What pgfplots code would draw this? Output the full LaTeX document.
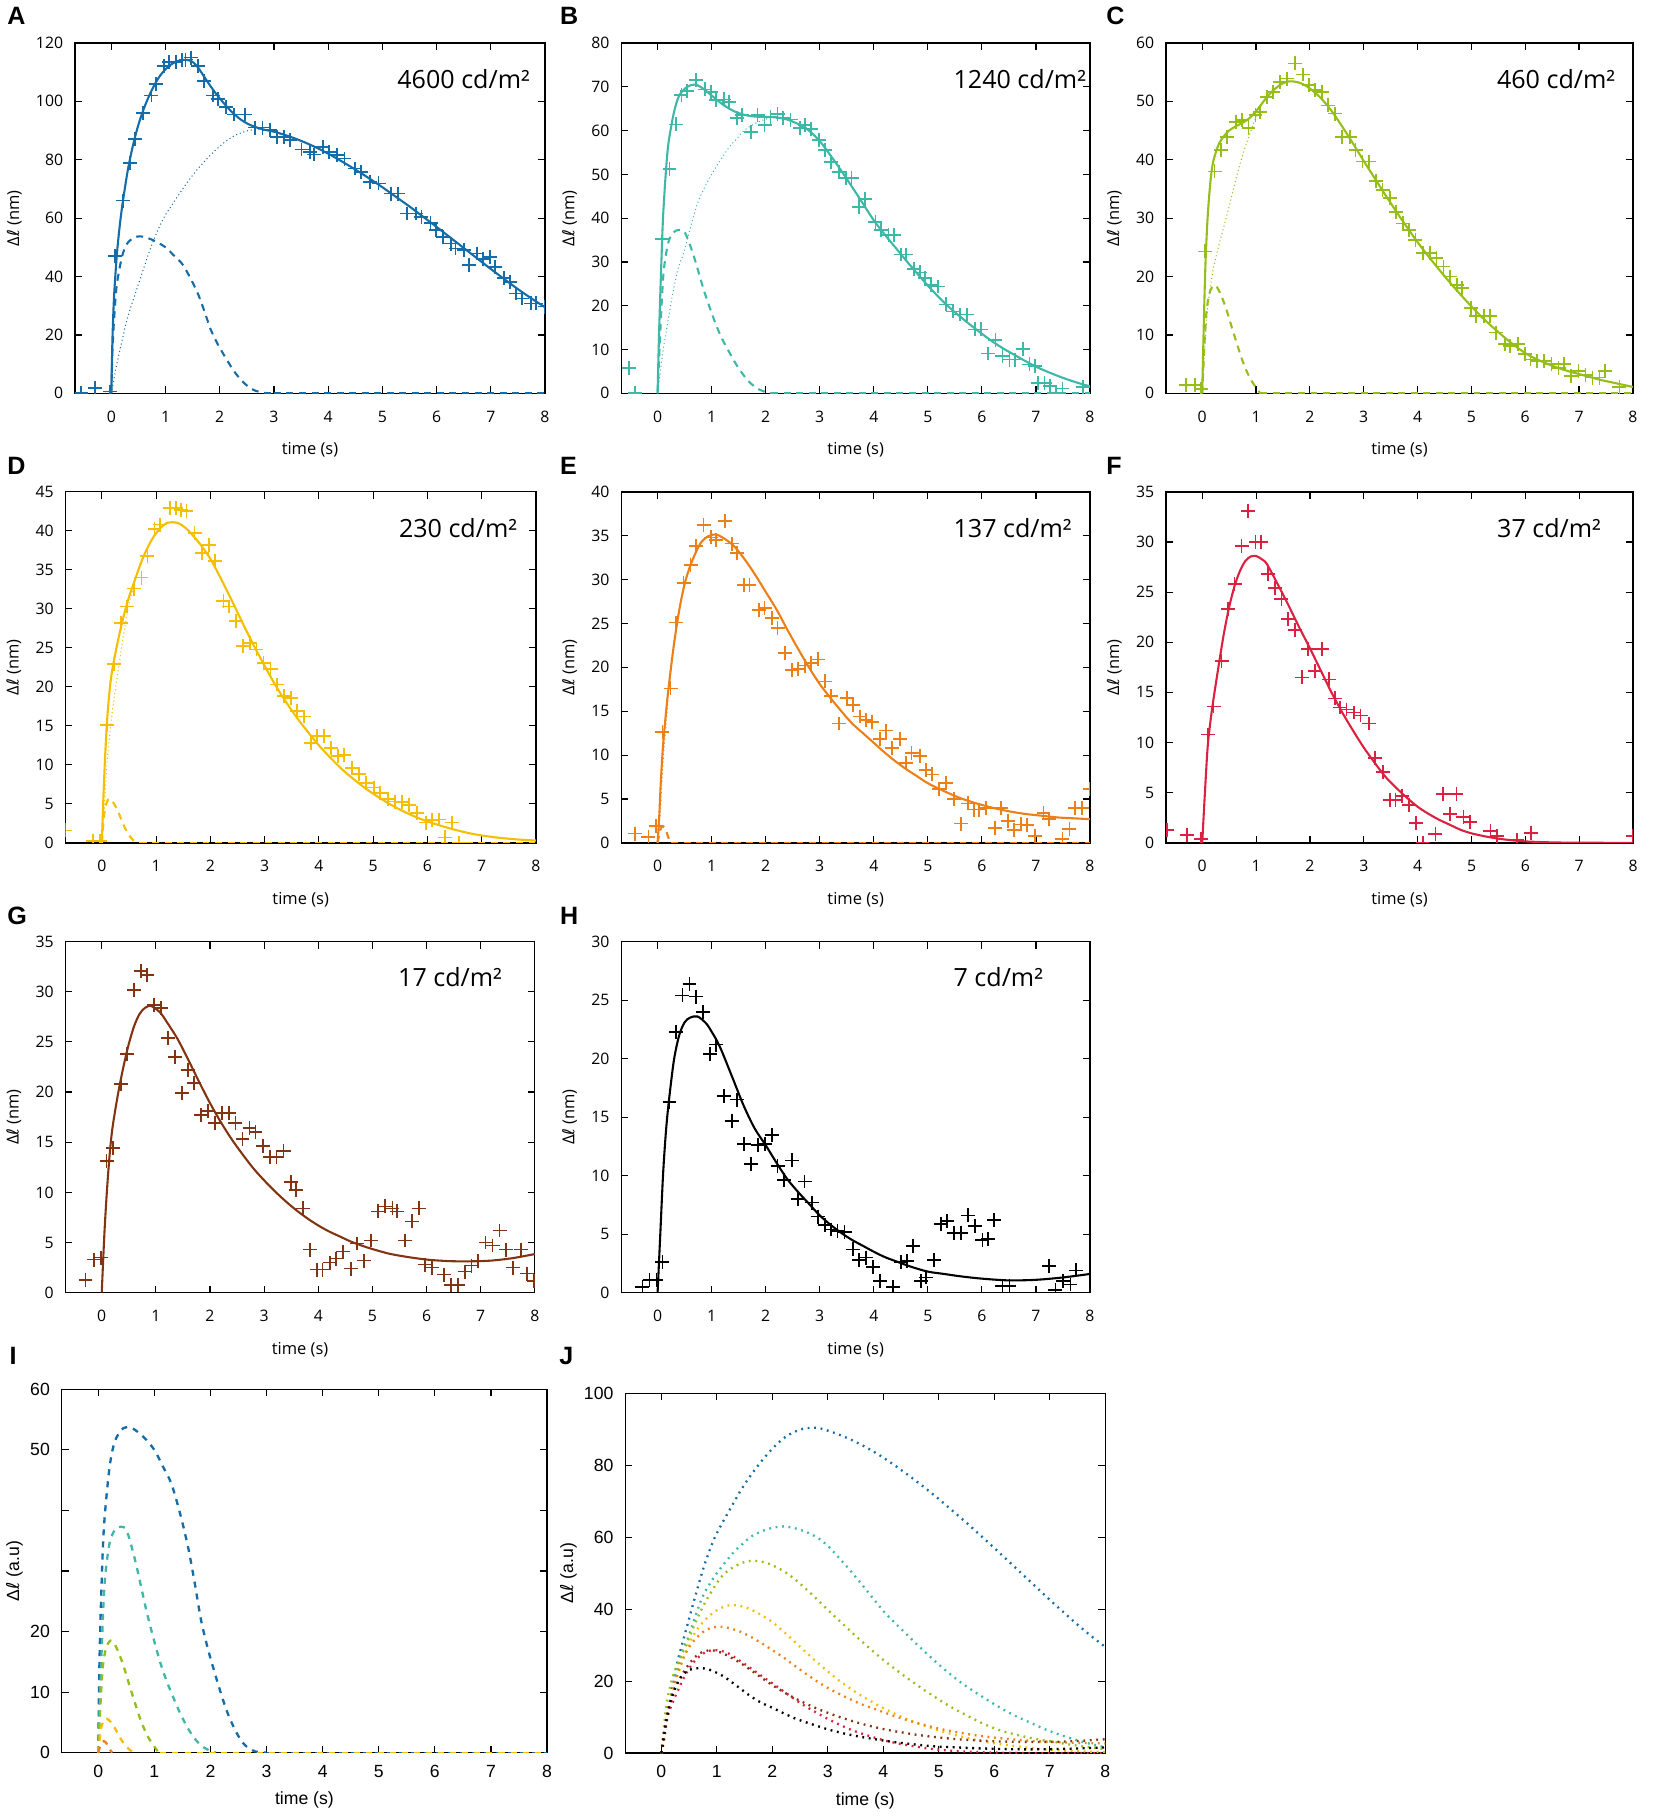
\documentclass[border=0pt]{standalone}
\usepackage{fontspec}
\setmainfont{Open Sans}
\newfontfamily\lab{Liberation Sans}
\newfontfamily\ari{Liberation Sans}
\newfontfamily\dv{DejaVu Sans}
\usepackage{pgfplots}
\usepackage{pgfplotstable}
\pgfplotsset{compat=1.18}

\definecolor{cA}{RGB}{20,108,168}
\definecolor{cB}{RGB}{62,184,166}
\definecolor{cC}{RGB}{150,190,25}
\definecolor{cD}{RGB}{246,190,0}
\definecolor{cE}{RGB}{236,128,22}
\definecolor{cF}{RGB}{220,32,64}
\definecolor{cG}{RGB}{130,52,18}
\definecolor{cH}{RGB}{0,0,0}

\pgfplotsset{
  base/.style={
    scale only axis, clip marker paths=true,
    xmin=-0.67, xmax=8, ymin=0, xtick={0,1,...,8},
    tick align=inside, major tick length=3pt,
    tick style={black, line width=0.5pt},
    axis line style={black, line width=0.6pt},
    /pgf/number format/assume math mode=true,
    y tick label style={xshift=-1.6pt},
  },
  abc/.style={base,
    ticklabel style={font=\fontsize{6.8}{8}\selectfont},
    label style={font=\fontsize{7.1}{8}\selectfont},
    x tick label style={anchor=center, yshift=-10pt},
    xlabel={time (s)}, ylabel={Δ{\dv ℓ} (nm)},
    xlabel style={at={([yshift=-24.5pt]axis description cs:0.5,0)}, anchor=center},
    ylabel style={at={([xshift=-22.3pt]axis description cs:0,0.5)}, anchor=center},
  },
  ij/.style={base, xmin=-0.65,
    ticklabel style={font=\ari\fontsize{7.6}{9}\selectfont},
    label style={font=\ari\fontsize{7.6}{9}\selectfont},
    x tick label style={anchor=center, yshift=-8pt},
    xlabel={time (s)}, ylabel={Δ{\dv ℓ} (a.u)},
    xlabel style={at={([yshift=-20.4pt]axis description cs:0.5,0)}, anchor=center},
  },
  pts/.style={only marks, mark=+, mark size=3pt, mark options={line width=0.75pt}},
  fit/.style={no marks, line width=0.9pt, smooth},
  fast/.style={no marks, line width=0.9pt, smooth, dash pattern=on 3pt off 2.4pt},
  slow/.style={no marks, line width=0.45pt, smooth, dash pattern=on 0.45pt off 1.2pt},
  fastI/.style={no marks, line width=1pt, smooth, dash pattern=on 2.6pt off 2.6pt},
  slowJ/.style={no marks, line width=1pt, smooth, dash pattern=on 0.8pt off 2pt},
}

% ---------------- Panel A ----------------
\pgfplotstableread{
x y
-0.68 1.7
-0.56 0.2
-0.30 1.9
-0.03 0.6
0.07 47
0.21 66
0.34 79
0.44 87
0.59 96
0.74 102
0.82 106
0.97 112
1.07 113.5
1.19 113.5
1.30 114
1.37 114.3
1.47 115
1.60 112
1.71 107
1.88 102
1.97 100.7
2.11 98
2.26 95.5
2.46 95.5
2.65 91
2.79 91
2.93 90.3
3.05 87.8
3.18 87.8
3.29 86.7
3.51 83.5
3.66 82.7
3.74 81.8
3.91 84.4
4.02 82.7
4.17 81.5
4.30 80.4
4.50 77
4.60 75.8
4.77 72.4
4.93 71.9
5.16 68.4
5.29 68.4
5.46 61.6
5.62 61.6
5.72 60.5
5.89 58.4
5.99 55.9
6.12 53.6
6.26 51.3
6.35 49.6
6.50 49
6.60 43.9
6.75 47.9
6.86 45.9
6.99 46.8
7.08 43.3
7.24 39.4
7.36 38.2
7.47 34.2
7.58 32.5
7.74 30.8
7.83 30.8
8.00 29.7
}\ptsA
\pgfplotstableread{
x y
0 0
0.02 18
0.05 33
0.1 47
0.15 56.5
0.2 64
0.3 76
0.4 85
0.5 92
0.6 97.5
0.7 102
0.8 105.8
0.9 108.8
1.0 111
1.1 112.6
1.2 113.6
1.3 114.1
1.4 114.2
1.5 113.5
1.6 111.6
1.7 108.8
1.8 106
1.9 103.4
2.0 101
2.2 96.8
2.4 93.6
2.6 91.6
2.8 90.4
3.0 89.6
3.2 88.5
3.4 87.2
3.6 85.7
3.8 84.0
4.0 82.1
4.2 80.0
4.4 77.8
4.6 75.5
4.8 73.1
5.0 70.6
5.25 67.3
5.5 64.0
5.75 60.5
6.0 57.0
6.25 53.4
6.5 49.8
6.75 46.2
7.0 42.6
7.25 39.1
7.5 35.7
7.75 32.5
8.0 29.5
}\fitA
\pgfplotstableread{
x y
0 0
0.02 14
0.05 25
0.1 37
0.2 47
0.3 51.5
0.45 53.6
0.6 53.6
0.8 52.2
1.0 50
1.15 47.3
1.3 44.5
1.45 39.8
1.6 34
1.72 28
1.83 22
1.95 17.3
2.06 13.7
2.2 9.4
2.32 6.2
2.47 3.2
2.62 1.2
2.8 0.2
3.0 0
}\fastA
\pgfplotstableread{
x y
0 0
0.05 5
0.1 10
0.21 19
0.3 26
0.44 34
0.6 43
0.77 52
0.95 59.5
1.1 64
1.3 69.5
1.45 73.5
1.63 77.6
1.85 82
2.09 86
2.3 88.5
2.55 90.1
2.8 90.4
3.0 89.6
3.2 88.5
3.4 87.2
3.6 85.7
3.8 84.0
4.0 82.1
4.2 80.0
4.4 77.8
4.6 75.5
4.8 73.1
5.0 70.6
5.25 67.3
5.5 64.0
5.75 60.5
6.0 57.0
6.25 53.4
6.5 49.8
6.75 46.2
7.0 42.6
7.25 39.1
7.5 35.7
7.75 32.5
8.0 29.5
}\slowA

% ---------------- Panel B ----------------
\pgfplotstableread{
x y
-0.53 5.8
-0.42 0.15
0.09 35.2
0.22 51.2
0.34 61.4
0.44 68.1
0.54 69.1
0.71 71.5
0.88 69.4
0.99 68.8
1.08 66.9
1.23 67.1
1.32 66.6
1.47 62.8
1.56 63.5
1.73 59.7
1.85 63.5
1.98 61.3
2.09 63.2
2.22 63.7
2.32 62.8
2.46 62.5
2.64 60.5
2.73 61.3
2.84 60.3
2.98 57.8
3.10 55.6
3.21 52.9
3.35 50.6
3.48 49.1
3.59 49.1
3.73 42.5
3.84 44.3
4.03 39.2
4.14 37.3
4.27 36.2
4.37 36.2
4.50 31.7
4.60 31.7
4.75 28.4
4.86 27.6
4.95 26.3
5.06 24.8
5.19 24.4
5.33 20.3
5.46 18.7
5.59 18
5.72 18
5.87 14.6
5.99 14.6
6.12 9.1
6.25 12.1
6.38 8.5
6.51 7.7
6.61 7.7
6.76 10.2
6.88 6.6
6.98 6.2
7.04 2.4
7.16 2.4
7.26 1.7
7.37 0
7.49 1.1
7.87 1.5
}\ptsB
\pgfplotstableread{
x y
0 0
0.03 15
0.07 30
0.1 40
0.15 50
0.2 57
0.3 64
0.4 68
0.55 70
0.7 70.5
0.85 69.5
1.0 68
1.2 66
1.4 64.5
1.6 63.6
1.8 63.2
2.0 63.1
2.2 63
2.4 62.5
2.6 61.5
2.8 60
3.0 57.6
3.2 54.3
3.4 50.8
3.6 47.1
3.8 43.3
4.0 39.5
4.2 36.3
4.4 33.3
4.6 30.3
4.8 27.4
5.0 24.6
5.2 22
5.4 19.6
5.6 17.5
5.8 15.5
6.0 13.6
6.2 11.8
6.4 10.2
6.6 8.8
6.8 7.4
7.0 6.1
7.2 5
7.4 4
7.6 3.1
7.8 2.3
8.0 1.6
}\fitB
\pgfplotstableread{
x y
0 0
0.05 14
0.11 27.5
0.2 34.5
0.3 36.8
0.4 37.3
0.51 36.6
0.67 31.3
0.87 23
1.07 16
1.2 12.3
1.33 9.3
1.46 6.5
1.6 4
1.73 2.2
1.86 1
2.0 0.3
2.1 0
}\fastB
\pgfplotstableread{
x y
0 0
0.05 5
0.11 10.5
0.2 17
0.28 22.8
0.38 28.5
0.48 32
0.6 37.5
0.74 43.4
0.87 47
1.0 50
1.15 53
1.33 56.3
1.47 58.2
1.6 60
1.8 61.6
2.0 62.6
2.2 63
2.4 62.5
2.6 61.5
2.8 60
3.0 57.6
3.2 54.3
3.4 50.8
3.6 47.1
3.8 43.3
4.0 39.5
4.2 36.3
4.4 33.3
4.6 30.3
4.8 27.4
5.0 24.6
5.2 22
5.4 19.6
5.6 17.5
5.8 15.5
6.0 13.6
6.2 11.8
6.4 10.2
6.6 8.8
6.8 7.4
7.0 6.1
7.2 5
7.4 4
7.6 3.1
7.8 2.3
8.0 1.6
}\slowB

% ---------------- Panel C ----------------
\pgfplotstableread{
x y
-0.30 1.4
-0.14 1.4
-0.02 0.8
0.05 24.3
0.23 38
0.35 41.7
0.46 43.9
0.63 46.5
0.74 46.8
0.86 45.4
0.99 47.6
1.08 48.2
1.21 50.8
1.31 51.6
1.44 53.3
1.57 53.9
1.72 56.5
1.87 54.6
1.99 52.8
2.10 51.9
2.22 51.6
2.34 49.3
2.47 47.9
2.60 43.9
2.74 43.9
2.85 41.7
2.98 39.7
3.10 39.7
3.23 36.3
3.35 34.8
3.49 33.4
3.60 31.1
3.73 29.1
3.84 28
3.96 26.3
4.10 24
4.23 24
4.35 23.2
4.48 21.7
4.60 20
4.73 18.6
4.83 18
4.99 14.6
5.09 13.2
5.23 13.2
5.35 13.2
5.46 10.4
5.62 8.4
5.72 8.1
5.86 8.4
5.99 6.7
6.10 5.8
6.22 5.5
6.35 5.5
6.49 5
6.62 4.4
6.72 5
6.85 3
6.99 3.8
7.12 3.2
7.25 2.7
7.38 2.7
7.48 3.8
7.75 1.1
}\ptsC
\pgfplotstableread{
x y
0 0
0.03 12
0.06 22
0.1 30
0.15 36
0.2 39.5
0.3 42.5
0.4 44
0.5 45
0.6 45.6
0.7 46.1
0.8 46.6
0.9 47.3
1.0 48.3
1.1 49.5
1.2 50.7
1.3 51.7
1.4 52.5
1.5 53.1
1.6 53.4
1.7 53.4
1.8 53.2
1.9 52.8
2.0 52.2
2.2 50.6
2.4 48.4
2.6 45.7
2.8 42.8
3.0 39.8
3.2 36.9
3.4 34
3.6 31.2
3.8 28.5
4.0 25.9
4.2 23.5
4.4 21.2
4.6 19
4.8 16.9
5.0 14.9
5.2 13
5.4 11.3
5.6 9.7
5.8 8.2
6.0 6.9
6.2 5.9
6.4 5.1
6.6 4.4
6.8 3.8
7.0 3.3
7.2 2.8
7.4 2.3
7.6 1.9
7.8 1.5
8.0 1.1
}\fitC
\pgfplotstableread{
x y
0 0
0.04 8
0.08 14
0.14 17.3
0.22 18.5
0.3 17.8
0.43 14.9
0.58 10.4
0.74 5.8
0.85 3.3
0.94 1.8
1.08 0
}\fastC
\pgfplotstableread{
x y
0 0
0.05 8
0.1 14.5
0.2 21
0.3 25
0.4 28.5
0.5 32
0.6 35.8
0.7 39.2
0.8 42.2
0.9 44.8
1.0 47.3
1.1 49.3
1.2 50.7
1.3 51.7
1.4 52.5
1.5 53.1
1.6 53.4
1.7 53.4
1.8 53.2
1.9 52.8
2.0 52.2
2.2 50.6
2.4 48.4
2.6 45.7
2.8 42.8
3.0 39.8
3.2 36.9
3.4 34
3.6 31.2
3.8 28.5
4.0 25.9
4.2 23.5
4.4 21.2
4.6 19
4.8 16.9
5.0 14.9
5.2 13
5.4 11.3
5.6 9.7
5.8 8.2
6.0 6.9
6.2 5.9
6.4 5.1
6.6 4.4
6.8 3.8
7.0 3.3
7.2 2.8
7.4 2.3
7.6 1.9
7.8 1.5
8.0 1.1
}\slowC

% ---------------- Panel D ----------------
\pgfplotstableread{
x y
-0.67 1.6
-0.16 0.2
-0.03 0.2
0.09 15.1
0.22 22.9
0.35 28.2
0.46 30.3
0.59 32.6
0.73 34
0.84 36.8
0.97 40.2
1.07 40.8
1.25 42.9
1.36 42.9
1.46 42.7
1.56 42.5
1.71 39.7
1.84 37.2
1.97 38.2
2.09 36.1
2.24 31
2.34 30.3
2.47 28.4
2.60 25.2
2.73 25.6
2.85 24.8
2.98 23.1
3.11 22.3
3.23 20.3
3.36 18.8
3.49 18.6
3.59 16.9
3.72 16.2
3.85 12.8
3.97 13.7
4.09 13.7
4.23 12.2
4.35 11.1
4.46 11.3
4.61 9.6
4.74 8.8
4.87 7.7
5.02 7.1
5.13 6.4
5.27 5.6
5.40 5.3
5.53 5.2
5.66 4.9
5.81 3.8
5.97 2.6
6.09 2.9
6.21 3
6.32 0.7
6.45 2.6
6.58 0
}\ptsD
\pgfplotstableread{
x y
0 0
0.03 6
0.06 11
0.1 16
0.15 20
0.2 22.5
0.3 26
0.4 29
0.5 31.5
0.6 33.5
0.7 35.5
0.8 37.2
0.9 38.6
1.0 39.7
1.1 40.5
1.2 41
1.3 41.1
1.4 41
1.5 40.6
1.6 40
1.8 38.4
2.0 36.4
2.2 33.8
2.4 31
2.6 28.1
2.8 25.3
3.0 22.7
3.2 20.2
3.4 18
3.6 16
3.8 14.2
4.0 12.5
4.2 11
4.4 9.6
4.6 8.4
4.8 7.3
5.0 6.3
5.3 5.0
5.6 3.9
5.9 3.0
6.2 2.3
6.5 1.7
6.8 1.2
7.1 0.85
7.4 0.6
7.7 0.42
8.0 0.3
}\fitD
\pgfplotstableread{
x y
0 0
0.05 4
0.12 5.6
0.2 5.3
0.3 4
0.4 2.3
0.5 1
0.6 0.2
0.7 0
}\fastD
\pgfplotstableread{
x y
0 0
0.05 5
0.1 10.6
0.2 17.2
0.3 22
0.4 26.7
0.5 30.5
0.6 33.3
0.7 35.5
0.8 37.2
0.9 38.6
1.0 39.7
1.1 40.5
1.2 41
1.3 41.1
1.4 41
1.5 40.6
1.6 40
1.8 38.4
2.0 36.4
2.2 33.8
2.4 31
2.6 28.1
2.8 25.3
3.0 22.7
3.2 20.2
3.4 18
3.6 16
3.8 14.2
4.0 12.5
4.2 11
4.4 9.6
4.6 8.4
4.8 7.3
5.0 6.3
5.3 5.0
5.6 3.9
5.9 3.0
6.2 2.3
6.5 1.7
6.8 1.2
7.1 0.85
7.4 0.6
7.7 0.42
8.0 0.3
}\slowD

% ---------------- Panel E ----------------
\pgfplotstableread{
x y
-0.42 1.06
-0.17 0.7
-0.03 1.9
0.09 12.6
0.24 17.6
0.34 25.1
0.48 29.6
0.61 31.7
0.71 33.8
0.85 36.2
0.99 34.8
1.08 34.5
1.25 36.7
1.37 34.1
1.47 33
1.60 29.4
1.70 29.4
1.87 26.5
1.98 26.8
2.11 25.6
2.22 24.5
2.36 21.6
2.49 19.7
2.60 19.8
2.73 20.2
2.84 20.5
2.97 20.9
3.10 18.4
3.21 16.7
3.35 13.6
3.50 16.5
3.61 15.7
3.74 14.4
3.85 14
3.97 13.8
4.11 11.8
4.22 12.8
4.34 10.8
4.49 11.8
4.60 9.1
4.70 10.2
4.85 9.9
4.96 8.3
5.08 7.8
5.21 6.1
5.33 6.8
5.48 5.0
5.62 2.2
5.74 4.5
5.85 3.8
5.94 3.8
6.08 4
6.24 1.7
6.36 4
6.48 2.5
6.60 1.5
6.73 2.1
6.84 2
6.98 0.8
7.14 3.4
7.24 2.7
7.49 0.45
7.62 1.6
7.72 4
7.85 4
8.00 6.1
}\ptsE
\pgfplotstableread{
x y
0 0
0.03 3
0.06 7
0.1 11
0.15 14.5
0.2 17.5
0.3 22.5
0.4 26.5
0.5 29.5
0.6 31.5
0.7 33
0.8 34.2
0.9 34.8
1.0 35.1
1.1 35.1
1.2 34.8
1.4 33.9
1.6 32.4
1.8 30.6
2.0 28.6
2.2 26.6
2.4 24.3
2.6 22.1
2.8 20
3.0 18.1
3.2 16.5
3.4 15
3.6 13.6
3.8 12.5
4.0 11.4
4.2 10.3
4.4 9.3
4.6 8.4
4.8 7.6
5.0 6.8
5.3 5.9
5.6 5.1
5.9 4.5
6.2 4
6.5 3.6
6.8 3.3
7.1 3.1
7.4 2.9
7.7 2.8
8.0 2.7
}\fitE
\pgfplotstableread{
x y
0 0
0.05 1.5
0.1 1.9
0.15 1.5
0.2 0.6
0.25 0
}\fastE
\pgfplotstableread{
x y
0 0
0.05 3.5
0.1 9.1
0.15 13
0.2 16.9
0.25 20
0.3 22.5
0.4 26.5
0.5 29.5
0.6 31.5
0.7 33
0.8 34.2
0.9 34.8
1.0 35.1
1.1 35.1
1.2 34.8
1.4 33.9
1.6 32.4
1.8 30.6
2.0 28.6
2.2 26.6
2.4 24.3
2.6 22.1
2.8 20
3.0 18.1
3.2 16.5
3.4 15
3.6 13.6
3.8 12.5
4.0 11.4
4.2 10.3
4.4 9.3
4.6 8.4
4.8 7.6
5.0 6.8
5.3 5.9
5.6 5.1
5.9 4.5
6.2 4
6.5 3.6
6.8 3.3
7.1 3.1
7.4 2.9
7.7 2.8
8.0 2.7
}\slowE

% ---------------- Panel F ----------------
\pgfplotstableread{
x y
-0.66 1.3
-0.28 0.8
-0.02 0.4
0.11 10.8
0.21 13.6
0.36 18.1
0.48 23.3
0.60 25.8
0.73 29.6
0.85 33.1
0.99 30
1.09 30
1.22 26.8
1.35 25.4
1.47 24.3
1.59 22.3
1.72 21.2
1.85 16.5
1.97 19.3
2.10 17.1
2.22 19.3
2.35 16.3
2.47 14.4
2.56 13.5
2.68 13.3
2.82 13
2.94 12.7
3.09 11.9
3.21 8.5
3.35 7.1
3.48 4.3
3.59 4.3
3.71 4.7
3.84 3.8
3.97 2
4.10 0
4.33 0.9
4.47 4.9
4.60 2.9
4.72 4.9
4.85 2.6
4.97 2.1
5.35 1.2
5.47 0.7
5.84 0.3
6.10 1
8.00 0.7
}\ptsF
\pgfplotstableread{
x y
0 0
0.05 5
0.1 9.5
0.15 12
0.2 14
0.3 17.5
0.4 20.8
0.5 23.5
0.6 25.6
0.7 27.1
0.8 28.1
0.9 28.55
1.0 28.6
1.1 28.3
1.2 27.8
1.4 25.8
1.6 23.7
1.8 21.5
2.0 19.4
2.2 17.2
2.4 15
2.6 13
2.8 11.2
3.0 9.5
3.2 8
3.4 6.6
3.6 5.5
3.8 4.5
4.0 3.6
4.2 2.9
4.4 2.3
4.6 1.8
4.8 1.3
5.0 0.95
5.3 0.6
5.6 0.35
6.0 0.15
6.5 0.05
7.0 0.02
8.0 0
}\fitF

% ---------------- Panel G ----------------
\pgfplotstableread{
x y
-0.30 1.3
-0.15 3.3
-0.02 3.5
0.09 13.1
0.21 14.4
0.35 20.8
0.46 23.8
0.59 30.2
0.72 32.1
0.84 31.7
0.97 28.7
1.09 28.4
1.22 25.4
1.35 23.5
1.48 19.9
1.60 22.2
1.71 20.9
1.84 17.7
1.96 18.1
2.09 16.9
2.22 17.9
2.35 17.9
2.47 16.9
2.60 15.3
2.73 16.4
2.84 16
2.98 14.6
3.11 13.5
3.23 13.5
3.36 14.1
3.49 11
3.59 10.2
3.72 8.4
3.85 4.3
3.97 2.3
4.08 2.3
4.21 3
4.33 3.4
4.46 4.1
4.61 2.4
4.71 4.9
4.84 3.2
4.97 5.2
5.10 8.1
5.23 8.6
5.37 8.4
5.46 8.1
5.60 5.2
5.73 7.1
5.86 8.4
5.97 2.8
6.10 2.5
6.32 1.8
6.45 0.8
6.58 0.8
6.71 2.1
6.83 2.7
6.95 3.2
7.09 5
7.22 4.7
7.35 6.2
7.47 4.3
7.60 2.5
7.74 4.3
7.85 1.9
7.99 1.2
}\ptsG
\pgfplotstableread{
x y
0 0
0.05 6
0.1 10.5
0.15 14
0.2 16.5
0.3 19.8
0.4 22.5
0.5 24.8
0.6 26.6
0.7 27.8
0.8 28.4
0.9 28.6
1.0 28.3
1.1 27.8
1.2 27
1.4 25.3
1.6 23.2
1.8 21
2.0 18.9
2.2 17
2.4 15.3
2.6 13.8
2.8 12.4
3.0 11.2
3.2 10.1
3.4 9.1
3.6 8.2
3.8 7.4
4.0 6.7
4.2 6.1
4.4 5.6
4.6 5.1
4.8 4.7
5.0 4.35
5.3 3.9
5.6 3.6
6.0 3.3
6.4 3.15
6.8 3.12
7.2 3.2
7.6 3.45
8.0 3.85
}\fitG

% ---------------- Panel H ----------------
\pgfplotstableread{
x y
-0.28 0.5
-0.15 1.1
-0.02 1.1
0.09 2.6
0.22 16.3
0.34 22.3
0.46 25.4
0.59 26.4
0.71 25.3
0.84 24
0.97 20.4
1.08 21.2
1.23 16.8
1.37 14.7
1.47 16.5
1.60 12.7
1.73 11
1.86 12.6
1.99 12.7
2.11 13.5
2.22 10.8
2.34 9.6
2.49 11.3
2.60 8
2.72 9.5
2.85 7.7
2.97 6.5
3.10 5.8
3.21 5.4
3.33 5.3
3.46 5.2
3.61 3.7
3.73 2.8
3.85 3
3.99 2.2
4.12 1
4.36 0.5
4.50 2.6
4.62 2.7
4.73 4
4.88 1
4.96 1.3
5.11 2.8
5.24 5.9
5.36 6.1
5.49 5.1
5.61 5.1
5.74 6.6
5.87 5.7
6.01 4.5
6.12 4.6
6.23 6.2
6.38 0.6
6.51 0.6
7.24 2.3
7.36 0.2
7.50 1
7.64 0.7
7.74 1.9
}\ptsH
\pgfplotstableread{
x y
0 0
0.05 5
0.1 10
0.15 13.5
0.2 16
0.3 19.8
0.4 22
0.5 23.1
0.6 23.5
0.74 23.6
0.9 23
1.0 22.3
1.1 21.5
1.2 20.5
1.4 18.2
1.6 15.9
1.8 14
2.0 12.6
2.2 11.1
2.4 9.7
2.6 8.6
2.8 7.6
3.0 6.6
3.2 5.8
3.4 5.1
3.6 4.5
3.8 4
4.0 3.5
4.2 3.05
4.4 2.7
4.7 2.2
5.0 1.8
5.3 1.6
5.6 1.4
6.0 1.2
6.5 1.05
7.0 1.1
7.5 1.3
8.0 1.6
}\fitH

\begin{document}
\begin{tikzpicture}[x=1pt,y=1pt]
\useasboundingbox (0,0) rectangle (712.5,782.5);

% ===== A =====
\begin{axis}[abc, at={(32.3pt,613.1pt)}, anchor=south west, width=202.4pt, height=150.9pt,
  ymax=120, ytick={0,20,...,120},
  ylabel style={at={([xshift=-26.1pt]axis description cs:0,0.5)}}]
\addplot[slow, cA] table {\slowA};
\addplot[fast, cA] table {\fastA};
\addplot[no marks, line width=0.9pt, dash pattern=on 3pt off 2.4pt, cA] coordinates {(3,0) (8,0)};
\addplot[fit, cA] table {\fitA};
\addplot[pts, cA] table {\ptsA};
\node[anchor=west, inner sep=0pt, font=\fontsize{10.8}{12}\selectfont] at (axis description cs:0.685,0.898) {4600 cd/m²};
\end{axis}

% ===== B =====
\begin{axis}[abc, at={(267.6pt,613.1pt)}, anchor=south west, width=201.8pt, height=150.9pt,
  ymax=80, ytick={0,10,...,80}]
\addplot[slow, cB] table {\slowB};
\addplot[fast, cB] table {\fastB};
\addplot[no marks, line width=0.9pt, dash pattern=on 3pt off 2.4pt, cB] coordinates {(2.1,0) (8,0)};
\addplot[fit, cB] table {\fitB};
\addplot[pts, cB] table {\ptsB};
\node[anchor=west, inner sep=0pt, font=\fontsize{10.8}{12}\selectfont] at (axis description cs:0.708,0.898) {1240 cd/m²};
\end{axis}

% ===== C =====
\begin{axis}[abc, at={(502.2pt,613.1pt)}, anchor=south west, width=201pt, height=150.9pt,
  ymax=60, ytick={0,10,...,60}]
\addplot[slow, cC] table {\slowC};
\addplot[fast, cC] table {\fastC};
\addplot[no marks, line width=0.9pt, dash pattern=on 3pt off 2.4pt, cC] coordinates {(1.08,0) (8,0)};
\addplot[fit, cC] table {\fitC};
\addplot[pts, cC] table {\ptsC};
\node[anchor=west, inner sep=0pt, font=\fontsize{10.8}{12}\selectfont] at (axis description cs:0.708,0.898) {460 cd/m²};
\end{axis}

% ===== D =====
\begin{axis}[abc, at={(28.2pt,419.5pt)}, anchor=south west, width=202.6pt, height=151.2pt,
  ymax=45, ytick={0,5,...,45}]
\addplot[slow, cD] table {\slowD};
\addplot[fast, cD] table {\fastD};
\addplot[no marks, line width=0.9pt, dash pattern=on 3pt off 2.4pt, cD] coordinates {(0.7,0) (8,0)};
\addplot[fit, cD] table {\fitD};
\addplot[pts, cD] table {\ptsD};
\node[anchor=west, inner sep=0pt, font=\fontsize{10.8}{12}\selectfont] at (axis description cs:0.708,0.898) {230 cd/m²};
\end{axis}

% ===== E =====
\begin{axis}[abc, at={(267.6pt,419.5pt)}, anchor=south west, width=201.8pt, height=151.2pt,
  ymax=40, ytick={0,5,...,40}]
\addplot[slow, cE] table {\slowE};
\addplot[fast, cE] table {\fastE};
\addplot[no marks, line width=0.9pt, dash pattern=on 3pt off 2.4pt, cE] coordinates {(0.25,0) (8,0)};
\addplot[fit, cE] table {\fitE};
\addplot[pts, cE] table {\ptsE};
\node[anchor=west, inner sep=0pt, font=\fontsize{10.8}{12}\selectfont] at (axis description cs:0.708,0.898) {137 cd/m²};
\end{axis}

% ===== F =====
\begin{axis}[abc, at={(502.2pt,419.5pt)}, anchor=south west, width=201.1pt, height=151.2pt,
  ymax=35, ytick={0,5,...,35}]
\addplot[fit, cF] table {\fitF};
\addplot[pts, cF] table {\ptsF};
\node[anchor=west, inner sep=0pt, font=\fontsize{10.8}{12}\selectfont] at (axis description cs:0.708,0.898) {37 cd/m²};
\end{axis}

% ===== G =====
\begin{axis}[abc, at={(28.2pt,225.8pt)}, anchor=south west, width=202.1pt, height=151.2pt,
  ymax=35, ytick={0,5,...,35}]
\addplot[fit, cG] table {\fitG};
\addplot[pts, cG] table {\ptsG};
\node[anchor=west, inner sep=0pt, font=\fontsize{10.8}{12}\selectfont] at (axis description cs:0.708,0.898) {17 cd/m²};
\end{axis}

% ===== H =====
\begin{axis}[abc, at={(267.6pt,225.8pt)}, anchor=south west, width=201.8pt, height=151.2pt,
  ymax=30, ytick={0,5,...,30}]
\addplot[fit, cH] table {\fitH};
\addplot[pts, cH] table {\ptsH};
\node[anchor=west, inner sep=0pt, font=\fontsize{10.8}{12}\selectfont] at (axis description cs:0.708,0.898) {7 cd/m²};
\end{axis}

% ===== I =====
\begin{axis}[ij, at={(26.6pt,27.7pt)}, anchor=south west, width=209pt, height=156.5pt,
  ymax=60, ytick={0,10,...,60}, yticklabels={0,10,20,,,50,60},
  ylabel style={at={([xshift=-20.4pt]axis description cs:0,0.5)}, anchor=center}]
\addplot[fastI, cA] table {\fastA};
\addplot[fastI, cB] table {\fastB};
\addplot[fastI, cC] table {\fastC};
\addplot[fastI, cD] table {\fastD};
\addplot[fastI, cE] table {\fastE};
\addplot[no marks, line width=1pt, dash pattern=on 2.6pt off 2.6pt, cA] coordinates {(3,0) (8,0)};
\addplot[no marks, line width=1pt, dash pattern=on 2.6pt off 2.6pt, cD, dash phase=2.6pt] coordinates {(1,0) (8,0)};
\end{axis}

% ===== J =====
\begin{axis}[ij, at={(269.3pt,27.5pt)}, anchor=south west, width=206.7pt, height=155pt,
  ymax=100, ytick={0,20,...,100},
  ylabel style={at={([xshift=-24.5pt]axis description cs:0,0.5)}, anchor=center}]
\addplot[slowJ, cA] table {\slowA};
\addplot[slowJ, cB] table {\slowB};
\addplot[slowJ, cC] table {\slowC};
\addplot[slowJ, cD] table {\slowD};
\addplot[slowJ, cE] table {\slowE};
\addplot[slowJ, cF] table {\fitF};
\addplot[slowJ, cG] table {\fitG};
\addplot[slowJ, cH] table {\fitH};
\end{axis}

% panel letters
\begin{scope}[every node/.style={anchor=north west, inner sep=0pt, font=\lab\bfseries\fontsize{10.8}{12}\selectfont}]
\node at (3,779.5) {A};
\node at (241,779.5) {B};
\node at (476.3,779.5) {C};
\node at (3,585.8) {D};
\node at (241,585.8) {E};
\node at (476.3,585.8) {F};
\node at (3,392) {G};
\node at (241,392) {H};
\node at (3.9,202.5) {I};
\node at (240.7,202.5) {J};
\end{scope}
\end{tikzpicture}
\end{document}
